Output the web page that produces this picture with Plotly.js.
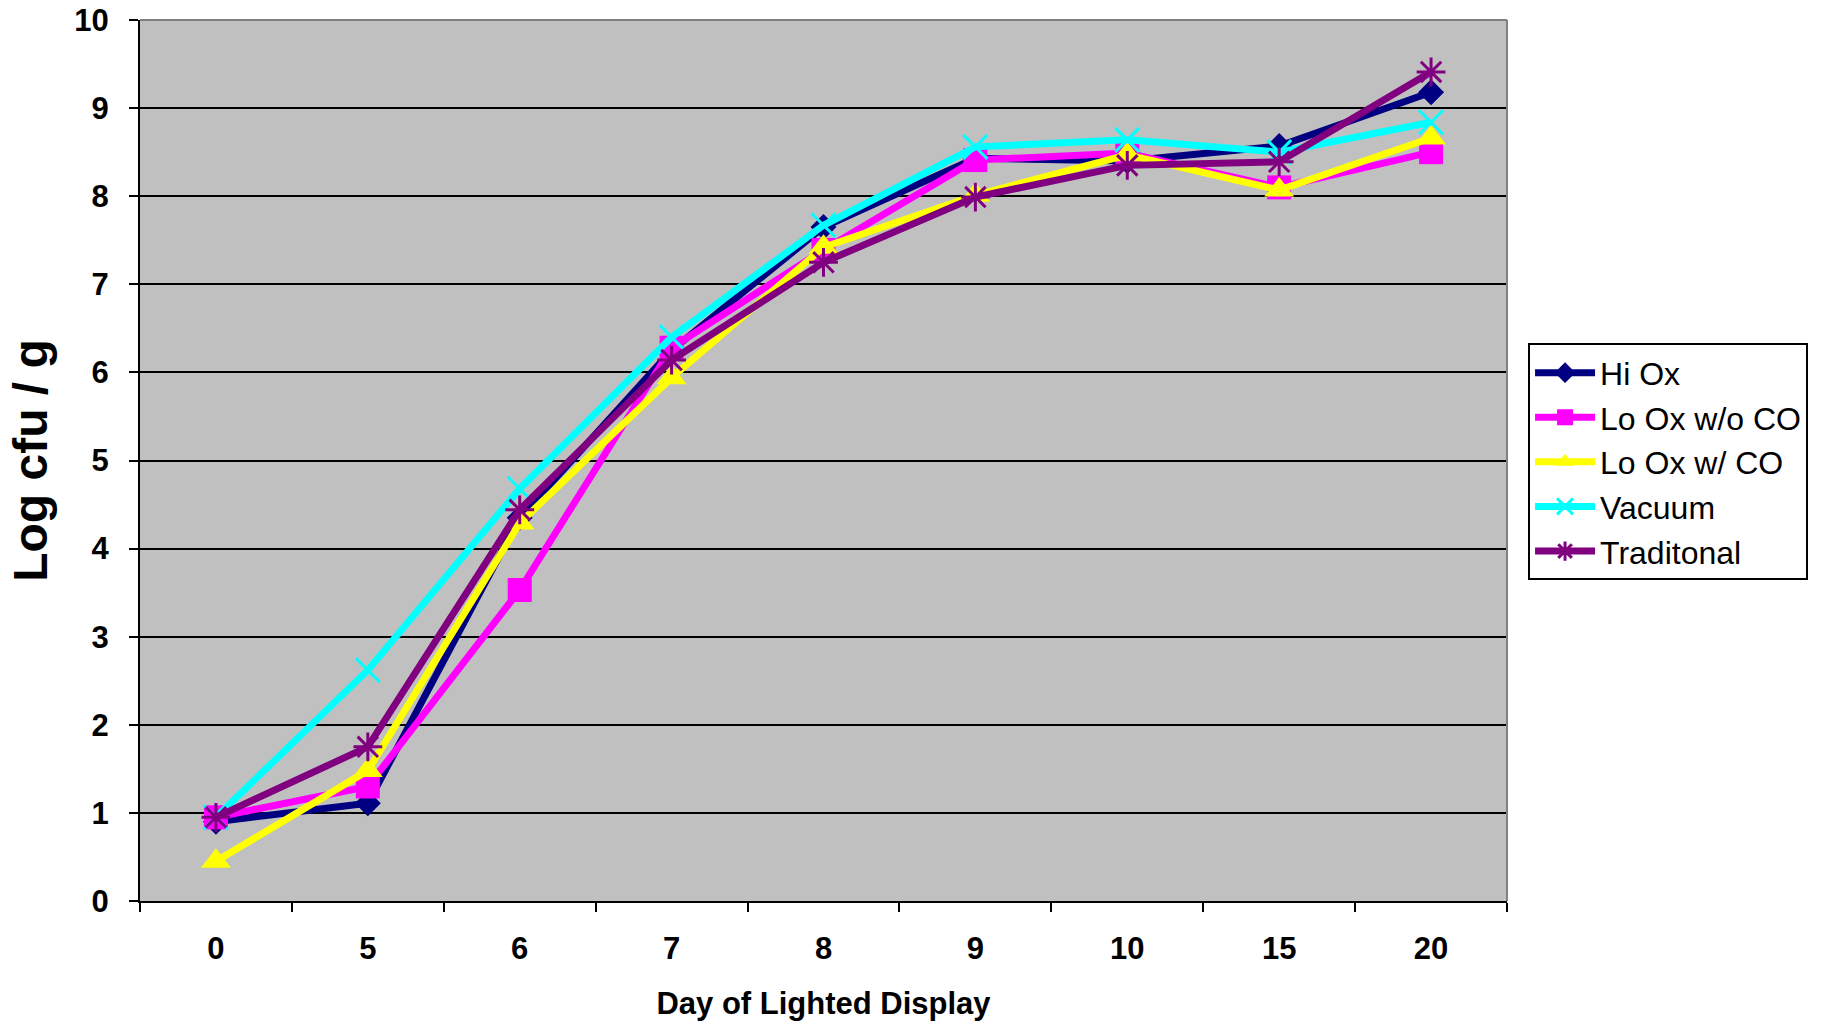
<!DOCTYPE html>
<html>
<head>
<meta charset="utf-8">
<script src="https://cdn.plot.ly/plotly-3.0.1.min.js"></script>
<style>html,body{margin:0;padding:0;background:#fff;}#chart{width:1828px;height:1025px;}</style>
</head>
<body>
<div id="chart"></div>
<script>
const days = ["0", "5", "6", "7", "8", "9", "10", "15", "20"];
const hiOx = [0.90, 1.11, 4.35, 6.25, 7.65, 8.43, 8.40, 8.57, 9.18];
const loOxNoCO = [0.95, 1.30, 3.53, 6.28, 7.39, 8.41, 8.49, 8.10, 8.50];
const loOxCO = [0.45, 1.48, 4.29, 5.94, 7.42, 8.01, 8.47, 8.07, 8.66];
const vacuum = [0.95, 2.62, 4.68, 6.40, 7.67, 8.56, 8.64, 8.50, 8.84];
const traditional = [0.95, 1.75, 4.44, 6.14, 7.25, 7.99, 8.35, 8.39, 9.41];
const seriesNames = ["Hi Ox", "Lo Ox w/o CO", "Lo Ox w/ CO", "Vacuum", "Traditonal"];

const styles = [
  {color: "#000080", symbol: "diamond", size: 20, lw: 0},
  {color: "#FF00FF", symbol: "square", size: 24, lw: 0},
  {color: "#FFFF00", symbol: "triangle-up", size: 26, lw: 0},
  {color: "#00FFFF", symbol: "x-thin-open", size: 24, lw: 3},
  {color: "#800080", symbol: "asterisk-open", size: 24, lw: 3}
];
const allData = [hiOx, loOxNoCO, loOxCO, vacuum, traditional];

const traces = allData.map((ys, i) => ({
  x: days,
  y: ys,
  name: seriesNames[i],
  type: "scatter",
  mode: "lines+markers",
  line: {color: styles[i].color, width: 7},
  marker: {symbol: styles[i].symbol, size: styles[i].size, color: styles[i].color,
           line: {color: styles[i].color, width: styles[i].lw}}
}));

const layout = {
  width: 1828, height: 1025,
  margin: {l: 140, r: 321, t: 20, b: 124},
  paper_bgcolor: "#ffffff",
  plot_bgcolor: "#C0C0C0",
  font: {family: "Liberation Sans, Arial, sans-serif", color: "#000"},
  showlegend: true,
  legend: {
    x: 1.0154, y: 0.633, xanchor: "left", yanchor: "top",
    bgcolor: "#ffffff", bordercolor: "#000000", borderwidth: 2,
    font: {size: 32, color: "#000"}, itemwidth: 60, tracegroupgap: 0
  },
  xaxis: {
    type: "category",
    range: [-0.5, 8.5],
    showgrid: false,
    zeroline: false,
    showline: true, linecolor: "#000", linewidth: 2,
    ticks: "outside", tickson: "boundaries", ticklen: 9, tickwidth: 2, tickcolor: "#000",
    tickfont: {size: 31, family: "Liberation Sans, Arial, sans-serif", weight: "bold"},
    ticklabelstandoff: 19,
    title: {text: "<b>Day of Lighted Display</b>", font: {size: 31}, standoff: 27}
  },
  yaxis: {
    range: [0, 10], dtick: 1, tick0: 0,
    showgrid: true, gridcolor: "#000", gridwidth: 2,
    zeroline: false,
    showline: true, linecolor: "#000", linewidth: 2,
    ticks: "outside", ticklen: 9, tickwidth: 2, tickcolor: "#000",
    tickfont: {size: 31, family: "Liberation Sans, Arial, sans-serif", weight: "bold"},
    ticklabelstandoff: 14,
    title: {text: "<b>Log cfu / g</b>", font: {size: 48}, standoff: 12}
  },
  shapes: [
    {type: "line", xref: "paper", yref: "paper", x0: 0, x1: 1, y0: 1, y1: 1, line: {color: "#808080", width: 2}},
    {type: "line", xref: "paper", yref: "paper", x0: 1, x1: 1, y0: 0, y1: 1, line: {color: "#808080", width: 2}}
  ]
};

Plotly.newPlot("chart", traces, layout, {displayModeBar: false, responsive: false});
</script>
</body>
</html>
